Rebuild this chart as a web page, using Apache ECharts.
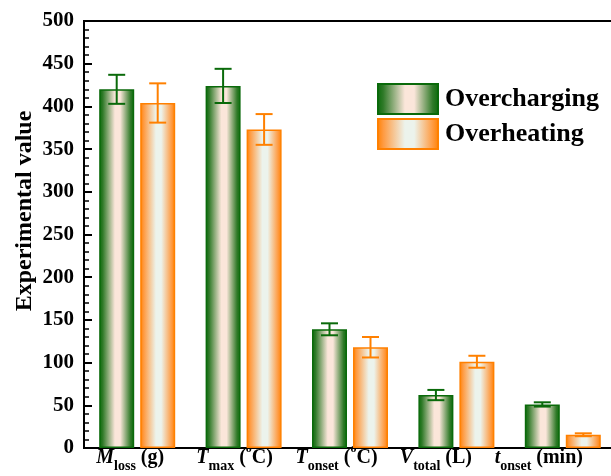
<!DOCTYPE html>
<html>
<head>
<meta charset="utf-8">
<script src="https://cdn.jsdelivr.net/npm/echarts@6/dist/echarts.min.js"></script>
<style>html,body{margin:0;padding:0;background:#fff;}#c{width:611px;height:476px;}</style>
</head>
<body>
<div id="c"></div>
<script>
// ---- data ----
var categories = ['Mloss (g)', 'Tmax (oC)', 'Tonset (oC)', 'Vtotal (L)', 'tonset (min)'];
var seriesNames = ['Overcharging', 'Overheating'];
var overchargingValues = [420, 424, 139, 62, 51];
var overchargingErrors = [17, 20, 7, 6, 2.5];
var overheatingValues = [404, 373, 118, 101, 15.5];
var overheatingErrors = [23, 18, 12, 7, 1.7];
var yTicks = [0, 50, 100, 150, 200, 250, 300, 350, 400, 450, 500];

// ---- styling ----
var FONT = "'Liberation Serif', 'Times New Roman', serif";
var GREEN = '#0a6a0a';
var ORANGE = '#ff8000';
var BAR_W = 35;
var BAR_GAP = 6;

var greenGrad = new echarts.graphic.LinearGradient(0, 0, 1, 0, [
  {offset: 0, color: '#0a6a0a'},
  {offset: 0.1, color: '#2f7a28'},
  {offset: 0.45, color: '#fbe6da'},
  {offset: 0.6, color: '#fbe6da'},
  {offset: 0.9, color: '#2f7a28'},
  {offset: 1, color: '#0a6a0a'}
]);
var orangeGrad = new echarts.graphic.LinearGradient(0, 0, 1, 0, [
  {offset: 0, color: '#ff8000'},
  {offset: 0.1, color: '#ff9a40'},
  {offset: 0.45, color: '#ecf3ec'},
  {offset: 0.6, color: '#ecf3ec'},
  {offset: 0.9, color: '#ff9a40'},
  {offset: 1, color: '#ff8000'}
]);

// x labels as rich text
var labelSpec = [
  ['{i|M}{s|loss}', '{n0| (g)}'],
  ['{i|T}{s|max}', '{n| (}{p|o}{n1|C)}'],
  ['{i|T}{s|onset}', '{n| (}{p|o}{n2|C)}'],
  ['{i|V}{s|total}', '{n3| (L)}'],
  ['{i|t}{s|onset}', '{n4| (min)}']
];
var spacers = [14, 18, 27, 41, 48];
var rich = {
  i: {fontFamily: FONT, fontSize: 20, fontWeight: 'bold', fontStyle: 'italic', color: '#000', lineHeight: 30},
  n: {fontFamily: FONT, fontSize: 20, fontWeight: 'bold', color: '#000', lineHeight: 30},
  s: {fontFamily: FONT, fontSize: 14, fontWeight: 'bold', color: '#000', lineHeight: 12, verticalAlign: 'bottom'},
  p: {fontFamily: FONT, fontSize: 12, fontWeight: 'bold', color: '#000', lineHeight: 16, verticalAlign: 'top'}
};
spacers.forEach(function (w, k) {
  rich['n' + k] = {fontFamily: FONT, fontSize: 20, fontWeight: 'bold', color: '#000', lineHeight: 30, padding: [0, w, 0, 0]};
});

function errRender(offset, color) {
  return function (params, api) {
    var top = api.coord([api.value(0), api.value(1) + api.value(2)]);
    var bot = api.coord([api.value(0), api.value(1) - api.value(2)]);
    var x = top[0] + offset;
    var cap = 8.5;
    var st = {stroke: color, lineWidth: 2};
    return {
      type: 'group',
      children: [
        {type: 'line', shape: {x1: x, y1: top[1], x2: x, y2: bot[1]}, style: st},
        {type: 'line', shape: {x1: x - cap, y1: top[1], x2: x + cap, y2: top[1]}, style: st},
        {type: 'line', shape: {x1: x - cap, y1: bot[1], x2: x + cap, y2: bot[1]}, style: st}
      ]
    };
  };
}
function errData(vals, errs) {
  return vals.map(function (v, k) { return [k, v, errs[k]]; });
}
var off = (BAR_W + BAR_GAP) / 2;

var chart = echarts.init(document.getElementById('c'), null, {renderer: 'canvas'});
chart.setOption({
  animation: false,
  backgroundColor: '#fff',
  grid: {left: 84, top: 21, width: 532, height: 427, show: true, borderColor: '#000', borderWidth: 2,
         containLabel: false, outerBoundsMode: 'none'},
  legend: {
    orient: 'vertical', left: 377, top: 83, padding: 0, itemWidth: 60, itemHeight: 30, itemGap: 3,
    icon: 'rect',
    data: seriesNames,
    textStyle: {fontFamily: FONT, fontSize: 26, fontWeight: 'bold', color: '#000', padding: [4, 0, 0, 2]}
  },
  xAxis: {
    type: 'category',
    data: categories,
    axisLine: {lineStyle: {color: '#000', width: 2}},
    axisTick: {show: false},
    axisLabel: {
      margin: -5,
      interval: 0,
      hideOverlap: false,
      formatter: function (v, k) { return labelSpec[k][0] + labelSpec[k][1]; },
      rich: rich
    },
    splitLine: {show: false}
  },
  yAxis: {
    type: 'value', min: yTicks[0], max: yTicks[yTicks.length - 1], interval: 50,
    axisLine: {show: true, lineStyle: {color: '#000', width: 2}},
    axisTick: {show: true, inside: true, length: 8, lineStyle: {color: '#000', width: 2}},
    minorTick: {show: true, splitNumber: 5, length: 5, lineStyle: {color: '#000', width: 1.5}},
    axisLabel: {fontFamily: FONT, fontSize: 21, fontWeight: 'bold', color: '#000', margin: 10},
    splitLine: {show: false}
  },
  graphic: [{
    type: 'text', x: 25, y: 211, rotation: Math.PI / 2,
    style: {text: 'Experimental value', fontFamily: FONT, fontSize: 24, fontWeight: 'bold', fill: '#000', align: 'center', verticalAlign: 'middle'}
  }],
  series: [
    {name: seriesNames[0], type: 'bar', data: overchargingValues, barWidth: BAR_W, barGap: (BAR_GAP / BAR_W * 100) + '%',
     itemStyle: {color: greenGrad, borderColor: GREEN, borderWidth: 1.5}},
    {name: seriesNames[1], type: 'bar', data: overheatingValues, barWidth: BAR_W,
     itemStyle: {color: orangeGrad, borderColor: ORANGE, borderWidth: 1.5}},
    {type: 'custom', renderItem: errRender(-off, GREEN), data: errData(overchargingValues, overchargingErrors), encode: {x: 0, y: 1}, z: 5, silent: true},
    {type: 'custom', renderItem: errRender(off, ORANGE), data: errData(overheatingValues, overheatingErrors), encode: {x: 0, y: 1}, z: 5, silent: true}
  ]
});
</script>
</body>
</html>
